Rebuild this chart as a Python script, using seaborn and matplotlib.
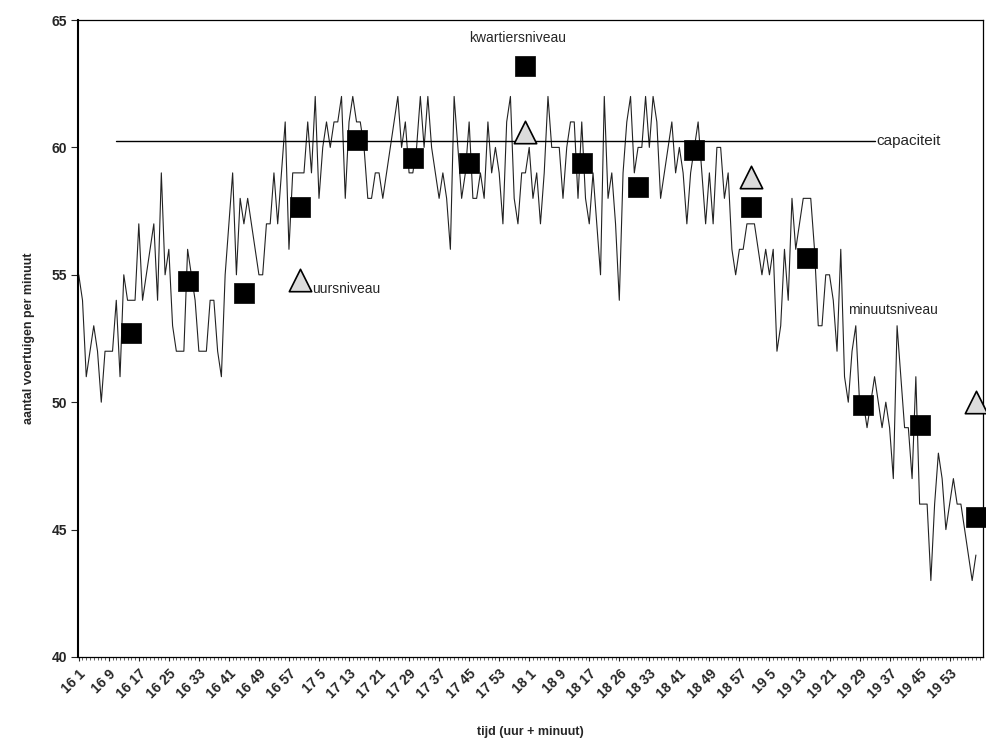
import matplotlib
matplotlib.use("Agg")
import matplotlib.pyplot as plt
import seaborn as sns
import numpy as np
import pandas as pd

# ---- data ----
minute_values = [
    55, 54, 51, 52, 53, 52, 50, 52, 52, 52, 54, 51, 55, 54, 54,
    54, 57, 54, 55, 56, 57, 54, 59, 55, 56, 53, 52, 52, 52, 56,
    55, 54, 52, 52, 52, 54, 54, 52, 51, 55, 57, 59, 55, 58, 57,
    58, 57, 56, 55, 55, 57, 57, 59, 57, 59, 61, 56, 59, 59, 59,
    59, 61, 59, 62, 58, 60, 61, 60, 61, 61, 62, 58, 61, 62, 61,
    61, 60, 58, 58, 59, 59, 58, 59, 60, 61, 62, 60, 61, 59, 59,
    60, 62, 60, 62, 60, 59, 58, 59, 58, 56, 62, 60, 58, 59, 61,
    58, 58, 59, 58, 61, 59, 60, 59, 57, 61, 62, 58, 57, 59, 59,
    60, 58, 59, 57, 59, 62, 60, 60, 60, 58, 60, 61, 61, 58, 61,
    58, 57, 59, 57, 55, 62, 58, 59, 57, 54, 59, 61, 62, 59, 60,
    60, 62, 60, 62, 61, 58, 59, 60, 61, 59, 60, 59, 57, 59, 60,
    61, 59, 57, 59, 57, 60, 60, 58, 59, 56, 55, 56, 56, 57, 57,
    57, 56, 55, 56, 55, 56, 52, 53, 56, 54, 58, 56, 57, 58, 58,
    58, 56, 53, 53, 55, 55, 54, 52, 56, 51, 50, 52, 53, 50, 50,
    49, 50, 51, 50, 49, 50, 49, 47, 53, 51, 49, 49, 47, 51, 46,
    46, 46, 43, 46, 48, 47, 45, 46, 47, 46, 46, 45, 44, 43, 44,
]
quarter_index = [14, 29, 44, 59, 74, 89, 104, 119, 134, 149, 164, 179, 194, 209, 224, 239]
quarter_values = [52.7, 54.75, 54.3, 57.65, 60.3, 59.6, 59.4, 63.2, 59.4, 58.45, 59.9, 57.65, 55.65, 49.9, 49.1, 45.5]
hour_index = [59, 119, 179, 239]
hour_values = [54.8, 60.6, 58.85, 50.0]
capacity_index = [10, 212]
capacity_values = [60.25, 60.25]
tick_labels = ["16 1", "16 9", "16 17", "16 25", "16 33", "16 41", "16 49", "16 57",
               "17 5", "17 13", "17 21", "17 29", "17 37", "17 45", "17 53",
               "18 1", "18 9", "18 17", "18 26", "18 33", "18 41", "18 49", "18 57",
               "19 5", "19 13", "19 21", "19 29", "19 37", "19 45", "19 53"]

df_min = pd.DataFrame({"idx": np.arange(len(minute_values)), "v": minute_values})
df_q = pd.DataFrame({"idx": quarter_index, "v": quarter_values})
df_h = pd.DataFrame({"idx": hour_index, "v": hour_values})
df_c = pd.DataFrame({"idx": capacity_index, "v": capacity_values})

sns.set_style("white")
plt.rcParams['font.family'] = ['Liberation Sans', 'DejaVu Sans']

fig = plt.figure(figsize=(9.86, 7.41), dpi=100)
ax = fig.add_axes([0.0791, 0.1134, 0.9179, 0.8596])

sns.lineplot(data=df_min, x="idx", y="v", ax=ax, color="#222222", lw=0.8)
sns.lineplot(data=df_c, x="idx", y="v", ax=ax, color="black", lw=1.0)
sns.scatterplot(data=df_h, x="idx", y="v", ax=ax, marker="^", s=260,
                color="#dcdcdc", edgecolor="black", linewidth=1.2, zorder=4, clip_on=False)
sns.scatterplot(data=df_q, x="idx", y="v", ax=ax, marker="s", s=210,
                color="black", edgecolor="black", linewidth=0.5, zorder=5, clip_on=False)

ax.set_xlim(-0.2, 240.9)
ax.set_ylim(40, 65)
ax.set_yticks([40, 45, 50, 55, 60, 65])
ax.set_yticks(np.arange(40, 65, 1), minor=True)
ax.set_xticks(np.arange(0, 240, 8))
ax.set_xticks(np.arange(0, 241, 1), minor=True)
ax.set_xticklabels(tick_labels, rotation=45, ha="right", va="top",
                   rotation_mode="anchor", fontweight="bold", fontsize=10)
for t in ax.get_yticklabels():
    t.set_fontweight("bold")
    t.set_fontsize(10)
ax.tick_params(axis="x", which="major", direction="out", length=3, width=0.8, pad=4)
ax.tick_params(axis="x", which="minor", direction="out", length=2, width=0.5)
ax.tick_params(axis="y", which="major", direction="out", length=5, width=0.8, pad=3)
ax.tick_params(axis="y", which="minor", direction="out", length=0)
ax.tick_params(bottom=True, left=True, which="both")

for s in ax.spines.values():
    s.set_color("black")
    s.set_linewidth(0.9)
ax.spines["left"].set_linewidth(1.5)

ax.set_xlabel("tijd (uur + minuut)", fontweight="bold", fontsize=9, labelpad=18)
ax.set_ylabel("aantal voertuigen per minuut", fontweight="bold", fontsize=9, labelpad=12)

ax.text(116.9, 64.3, "kwartiersniveau", ha="center", va="center", fontsize=10)
ax.text(62.3, 54.45, "uursniveau", ha="left", va="center", fontsize=10)
ax.text(205.0, 53.6, "minuutsniveau", ha="left", va="center", fontsize=10)
ax.text(212.4, 60.25, "capaciteit", ha="left", va="center", fontsize=11)

fig.savefig("out.png", dpi=100)
